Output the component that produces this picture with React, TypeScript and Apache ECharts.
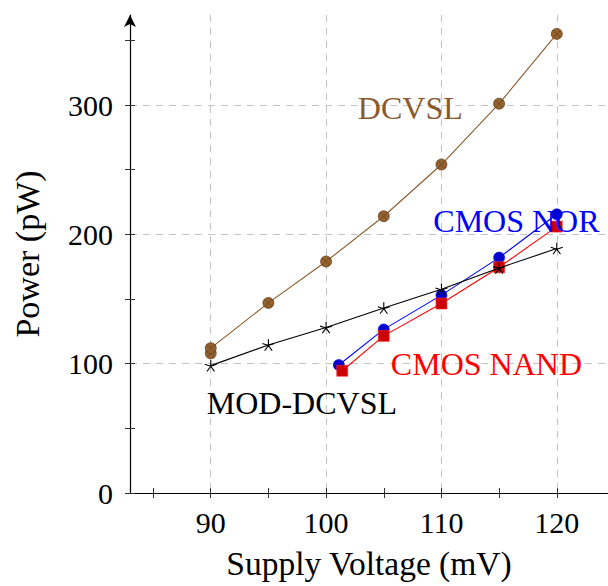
import React, { useEffect, useRef } from 'react';
import * as echarts from 'echarts';

// ---- data ----
const voltageDcvsl = [90, 90, 95, 100, 105, 110, 115, 120];
const powerDcvsl = [108, 112, 147, 179, 214, 254, 301, 355];

const voltageMod = [90, 95, 100, 105, 110, 115, 120];
const powerMod = [98.5, 114.5, 128, 143, 157.5, 174, 189];

const voltageNor = [101.1, 105, 110, 115, 120];
const powerNor = [99, 126.5, 153, 182, 215.5];

const voltageNand = [101.4, 105, 110, 115, 120];
const powerNand = [94.5, 121.5, 146.5, 174.5, 206];

const xTickValues = [85, 90, 95, 100, 105, 110, 115, 120];
const yTickValues = [0, 50, 100, 150, 200, 250, 300, 350];

const xMin = 83;
const xMax = 124.44;
const yMin = 0;
const yMax = 369.6;

const annotationTexts = ['DCVSL', 'CMOS NOR', 'CMOS NAND', 'MOD-DCVSL'];
const annotationX = [107.3, 116.5, 113.9, 97.9];
const annotationY = [297.5, 210.3, 99.7, 69.6];

const BROWN = '#8a5a2e';
const BROWN_FILL = '#94612f';
const BROWN_EDGE = '#6a4220';
const annotationColors = [BROWN, '#0000ff', '#ff0000', '#000000'];

const FONT = '"Liberation Serif", "Times New Roman", serif';

const pairs = (xs: number[], ys: number[]) => xs.map((x, i) => [x, ys[i]]);

const otimesPath =
  'path://M0,-10A10,10,0,1,1,0,10A10,10,0,1,1,0,-10Z M-7.07,-7.07L7.07,7.07 M-7.07,7.07L7.07,-7.07';
const starPath =
  'path://M0,0L0,-10 M0,0L9.51,-3.09 M0,0L5.88,8.09 M0,0L-5.88,8.09 M0,0L-9.51,-3.09';

const tickOnlyX = (gridIndex: number, inside: boolean) => ({
  type: 'value',
  gridIndex,
  min: xMin,
  max: xMax,
  axisLine: { show: false },
  axisTick: {
    show: true,
    inside,
    length: 5,
    customValues: xTickValues,
    lineStyle: { color: '#333', width: 1 },
  },
  axisLabel: { show: false },
  splitLine: { show: false },
});

const tickOnlyY = (gridIndex: number, inside: boolean) => ({
  type: 'value',
  gridIndex,
  min: yMin,
  max: yMax,
  interval: 100,
  axisLine: { show: false },
  axisTick: {
    show: true,
    inside,
    length: 5,
    customValues: yTickValues,
    lineStyle: { color: '#333', width: 1 },
  },
  axisLabel: { show: false },
  splitLine: { show: false },
});

export default function App() {
  const ref = useRef<HTMLDivElement>(null);

  useEffect(() => {
    const chart = echarts.init(ref.current!, null, { renderer: 'svg' });

    const gridBox = { left: 130, right: 0, top: 15, bottom: 93, containLabel: false };

    const option: any = {
      animation: false,
      backgroundColor: '#ffffff',
      grid: [gridBox, { ...gridBox }, { ...gridBox }],
      xAxis: [
        {
          type: 'value',
          gridIndex: 0,
          min: xMin,
          max: xMax,
          name: 'Supply Voltage (mV)',
          nameLocation: 'middle',
          nameGap: 53,
          nameTextStyle: { fontFamily: FONT, fontSize: 33.5, color: '#000' },
          axisLine: { show: true, onZero: false, lineStyle: { color: '#000', width: 1.2 } },
          axisTick: { show: false },
          axisLabel: {
            show: true,
            margin: 14,
            fontFamily: FONT,
            fontSize: 30,
            color: '#000',
            showMinLabel: false,
            showMaxLabel: false,
            formatter: (v: number) => (Math.abs(v % 10) < 1e-6 ? String(v) : ''),
          },
          splitLine: {
            show: true,
            showMinLine: false,
            showMaxLine: false,
            lineStyle: { color: '#c4c4c4', type: [7, 6], width: 1 },
          },
        },
        tickOnlyX(1, true),
        tickOnlyX(2, false),
      ],
      yAxis: [
        {
          type: 'value',
          gridIndex: 0,
          min: yMin,
          max: yMax,
          interval: 100,
          name: 'Power (pW)',
          nameLocation: 'middle',
          nameGap: 86,
          nameRotate: 90,
          nameTextStyle: { fontFamily: FONT, fontSize: 34, color: '#000' },
          axisLine: {
            show: true,
            onZero: false,
            symbol: ['none', 'arrow'],
            symbolSize: [9, 12],
            lineStyle: { color: '#000', width: 1.2 },
          },
          axisTick: { show: false },
          axisLabel: {
            show: true,
            margin: 17,
            fontFamily: FONT,
            fontSize: 30,
            color: '#000',
            showMaxLabel: false,
            formatter: (v: number) => (Math.abs(v % 100) < 1e-6 ? String(v) : ''),
          },
          splitLine: {
            show: true,
            showMinLine: false,
            showMaxLine: false,
            lineStyle: { color: '#c4c4c4', type: [7, 6], width: 1 },
          },
        },
        tickOnlyY(1, true),
        tickOnlyY(2, false),
      ],
      series: [
        {
          name: 'DCVSL',
          type: 'line',
          xAxisIndex: 0,
          yAxisIndex: 0,
          data: pairs(voltageDcvsl, powerDcvsl),
          symbol: otimesPath,
          symbolSize: 11,
          showAllSymbol: true,
          lineStyle: { color: BROWN, width: 1.1 },
          itemStyle: { color: BROWN_FILL, borderColor: BROWN_EDGE, borderWidth: 0.8 },
          z: 2,
        },
        {
          name: 'CMOS NOR',
          type: 'line',
          xAxisIndex: 0,
          yAxisIndex: 0,
          data: pairs(voltageNor, powerNor),
          symbol: 'circle',
          symbolSize: 11,
          showAllSymbol: true,
          lineStyle: { color: '#0000ff', width: 1.1 },
          itemStyle: { color: '#0000cc', borderColor: '#0000ff', borderWidth: 0.6 },
          z: 3,
        },
        {
          name: 'CMOS NAND',
          type: 'line',
          xAxisIndex: 0,
          yAxisIndex: 0,
          data: pairs(voltageNand, powerNand),
          symbol: 'rect',
          symbolSize: 11,
          showAllSymbol: true,
          lineStyle: { color: '#ff0000', width: 1.1 },
          itemStyle: { color: '#cc0000', borderColor: '#ff3333', borderWidth: 0.6 },
          z: 4,
        },
        {
          name: 'MOD-DCVSL',
          type: 'line',
          xAxisIndex: 0,
          yAxisIndex: 0,
          data: pairs(voltageMod, powerMod),
          symbol: starPath,
          symbolSize: 12,
          symbolKeepAspect: true,
          showAllSymbol: true,
          lineStyle: { color: '#000', width: 1.1 },
          itemStyle: { color: '#000', borderColor: '#000', borderWidth: 1.1 },
          z: 5,
        },
      ],
    };

    chart.setOption(option);

    const graphic = annotationTexts.map((text, i) => {
      const p = chart.convertToPixel({ gridIndex: 0 }, [annotationX[i], annotationY[i]]) as number[];
      return {
        type: 'text',
        x: p[0],
        y: p[1],
        z: 10,
        style: {
          text,
          fill: annotationColors[i],
          font: `32px ${FONT}`,
          textAlign: 'center',
          textVerticalAlign: 'middle',
        },
      };
    });
    chart.setOption({ graphic });

    return () => chart.dispose();
  }, []);

  return (
    <div
      ref={ref}
      style={{ position: 'fixed', left: 0, top: 0, width: 608, height: 586, background: '#fff' }}
    />
  );
}
